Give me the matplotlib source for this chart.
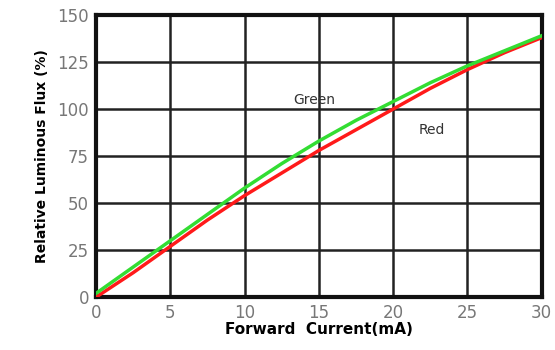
import matplotlib.pyplot as plt
import numpy as np

current = [0, 2.5, 5, 7.5, 10, 12.5, 15, 17.5, 20, 22.5, 25, 27.5, 30]
green = [2, 16, 30, 44, 58, 71, 83, 94, 104, 114, 123, 131, 139]
red = [0, 13, 27, 41, 54, 66, 78, 89, 100, 111, 121, 130, 138]

xticks = [0, 5, 10, 15, 20, 25, 30]
yticks = [0, 25, 50, 75, 100, 125, 150]

fig = plt.figure(figsize=(5.55, 3.5), dpi=100)
ax = fig.add_axes([0.173, 0.151, 0.803, 0.806])

ax.plot(current, red, color='#ff1a1a', lw=2.5, zorder=3)
ax.plot(current, green, color='#33dd33', lw=2.5, zorder=4)

ax.set_xlim(0, 30)
ax.set_ylim(0, 150)
ax.set_xticks(xticks)
ax.set_yticks(yticks)
ax.grid(True, color='#222222', lw=1.8)
ax.tick_params(length=0, pad=5, labelsize=12, labelcolor='#777777')
for s in ax.spines.values():
	s.set_linewidth(3)
	s.set_color('#111111')

ax.text(14.7, 105, 'Green', fontsize=10, color='#333333', ha='center', va='center')
ax.text(22.6, 89, 'Red', fontsize=10, color='#333333', ha='center', va='center')

ax.set_xlabel('Forward  Current(mA)', fontsize=11, fontweight='bold', labelpad=0)
ax.set_ylabel('Relative Luminous Flux (%)', fontsize=10, fontweight='bold', labelpad=6)

fig.savefig('out.png', dpi=100)
